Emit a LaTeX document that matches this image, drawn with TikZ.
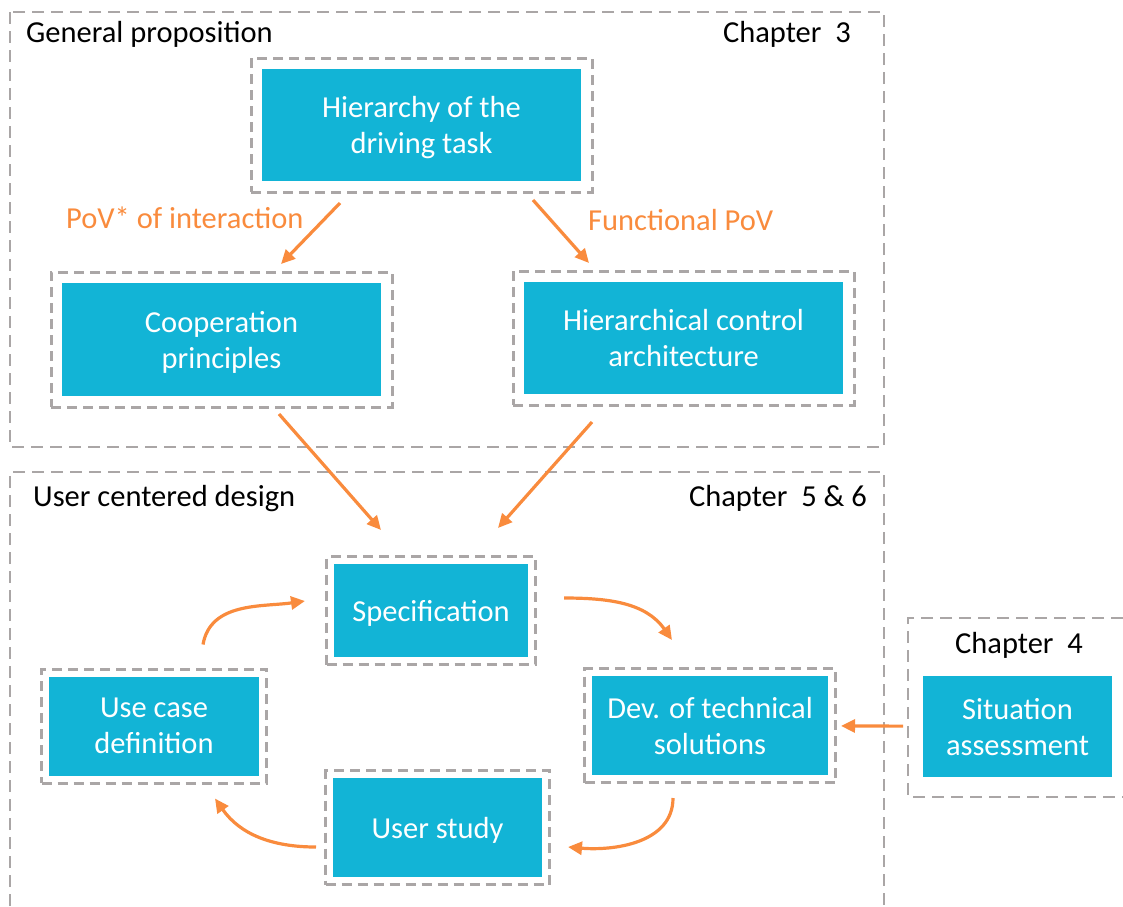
\documentclass[tikz,border=0pt]{standalone}
\usepackage{fontspec}
\setmainfont{Carlito}
\usetikzlibrary{arrows.meta,fit}
\definecolor{boxblue}{HTML}{12B4D6}
\definecolor{floworange}{HTML}{F98B3D}
\definecolor{dashgrey}{HTML}{AAA6A6}

\begin{document}
\begin{tikzpicture}[x=1pt, y=1pt, font=\fontsize{30.5}{36}\selectfont,
  task/.style = {fill=boxblue, text=white, align=center, text depth=0pt, inner sep=0pt, outer sep=0pt},
  taskframe/.style = {draw=dashgrey, line width=3pt, dash pattern=on 10pt off 6pt, inner sep=#1},
  taskframe/.default = 7.5pt,
  region/.style = {draw=dashgrey, line width=2.6pt, dash pattern=on 12pt off 7pt},
  flow/.style = {-{Triangle[length=14pt,width=13pt]}, draw=floworange, line width=3.2pt},
  title/.style = {anchor=base west, inner sep=0pt}]
        \useasboundingbox (0,0) rectangle (1123,-906);

        \draw[region] (10,-12) rectangle (884,-447);
        \draw[region] (10,-906) -- (10,-472) -- (884,-472) -- (884,-906);
        \draw[region] (1123,-618) -- (908,-618) -- (908,-797) -- (1123,-797);

        \node[title] (t_general) at (26,-42) {General proposition};
        \node[title, anchor=base east] (t_ch3) at (851,-42) {Chapter\ \ 3};
        \node[title] (t_user) at (33,-506) {User centered design};
        \node[title, anchor=base east] (t_ch56) at (867,-506) {Chapter\ \ 5 \& 6};
        \node[title, anchor=base] (t_ch4) at (1019,-653) {Chapter\ \ 4};
        \node[title, text=floworange] (l_inter) at (66,-228) {PoV* of interaction};
        \node[title, text=floworange] (l_func) at (588,-230) {Functional PoV};

        \node[task, minimum width=319pt, minimum height=112pt] (n_hier) at (421.5,-125) {Hierarchy of the\\driving task};
        \node[task, minimum width=319pt, minimum height=113pt] (n_coop) at (221.5,-339.5) {Cooperation\\principles};
        \node[task, minimum width=319pt, minimum height=112pt] (n_ctrl) at (683.5,-338) {Hierarchical control\\architecture};
        \node[task, minimum width=194pt, minimum height=93pt] (n_spec) at (431,-610.5) {Specification};
        \node[task, minimum width=210pt, minimum height=99pt] (n_use) at (154,-726) {Use case\\definition};
        \node[task, minimum width=236pt, minimum height=99pt] (n_dev) at (710,-725.5) {Dev. of technical\\solutions};
        \node[task, minimum width=209pt, minimum height=99pt] (n_study) at (437.5,-827.5) {User study};
        \node[task, minimum width=189pt, minimum height=101pt] (n_sit) at (1017.5,-726.5) {Situation\\assessment};

        \node[taskframe=11pt, fit=(n_hier)] (f_hier) {};
        \node[taskframe=11pt, fit=(n_coop)] (f_coop) {};
        \node[taskframe=11pt, fit=(n_ctrl)] (f_ctrl) {};
        \node[taskframe, fit=(n_spec)] (f_spec) {};
        \node[taskframe, fit=(n_use)] (f_use) {};
        \node[taskframe, fit=(n_dev)] (f_dev) {};
        \node[taskframe, fit=(n_study)] (f_study) {};

        \draw[flow] ([shift={(78,-22)}]n_hier.south west) -- ([shift={(-100,19)}]n_coop.north east);
        \draw[flow] ([shift={(-48,-19)}]n_hier.south east) -- ([shift={(65,19)}]n_ctrl.north west);
        \draw[flow] ([shift={(-102,-18)}]n_coop.south east) -- ([shift={(47,34)}]n_spec.north west);
        \draw[flow] ([shift={(68,-28)}]n_ctrl.south west) -- ([shift={(-30,36)}]n_spec.north east);
        \draw[flow] ([shift={(49,32)}]n_use.north) to[out=80, in=188] ([shift={(-29,9.5)}]n_spec.west);
        \draw[flow] ([shift={(36,12.5)}]n_spec.east) to[out=0, in=125] ([shift={(-38,36)}]n_dev.north);
        \draw[flow] ([shift={(-37,-23)}]n_dev.south) to[out=-90, in=-5] ([shift={(26,-19.5)}]n_study.east);
        \draw[flow] ([shift={(-17,-19.5)}]n_study.west) to[out=180, in=-55] ([shift={(61,-23)}]n_use.south);
        \draw[flow, shorten <=20pt, shorten >=13pt] (n_sit) -- (n_dev);
      \end{tikzpicture}
\end{document}
